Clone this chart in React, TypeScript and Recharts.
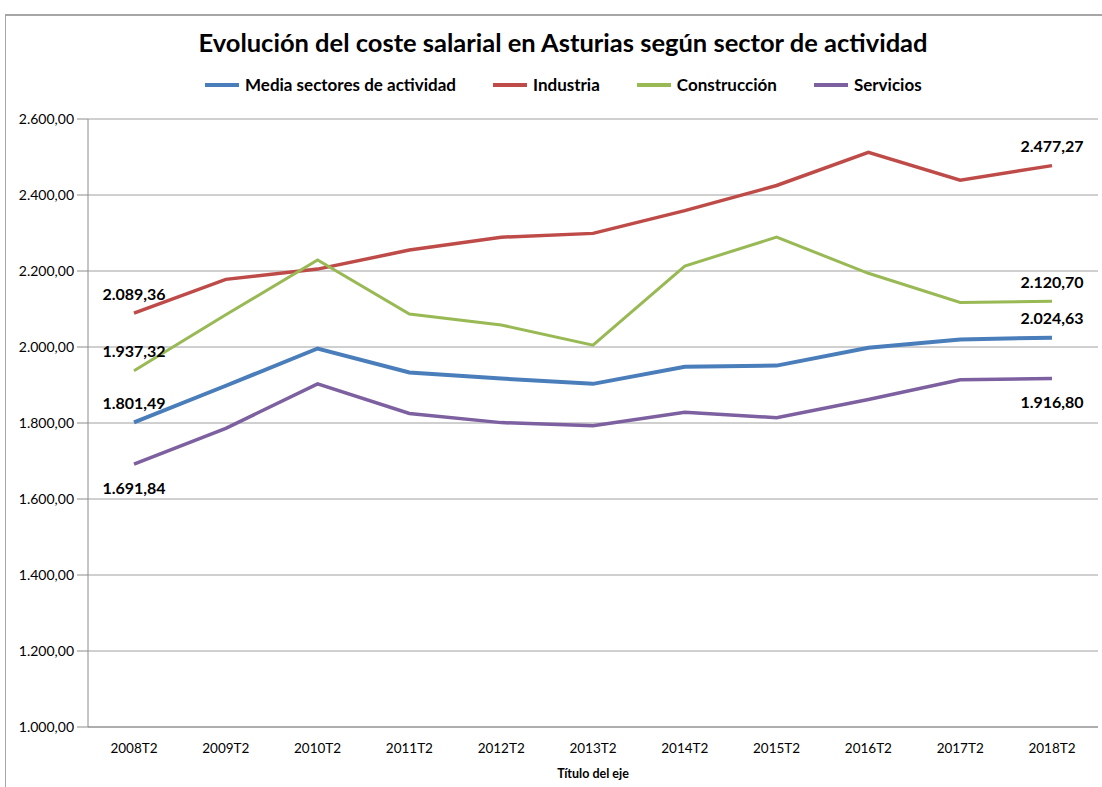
import { CartesianGrid, LabelList, Line, LineChart, XAxis, YAxis } from "recharts";

const periods = ["2008T2", "2009T2", "2010T2", "2011T2", "2012T2", "2013T2", "2014T2", "2015T2", "2016T2", "2017T2", "2018T2"];
const media = [1801.49, 1898, 1996, 1933, 1917, 1903, 1948, 1951, 1998, 2020, 2024.63];
const industria = [2089.36, 2178, 2205, 2255, 2289, 2299, 2359, 2425, 2512, 2439, 2477.27];
const construccion = [1937.32, 2085, 2229, 2087, 2058, 2005, 2213, 2289, 2194, 2117, 2120.7];
const servicios = [1691.84, 1786, 1903, 1825, 1801, 1793, 1828, 1814, 1862, 1914, 1916.8];
const yTicks = [1000, 1200, 1400, 1600, 1800, 2000, 2200, 2400, 2600];

const series = [
  { key: "media", name: "Media sectores de actividad", color: "#4a7ebb", width: 4, below: false },
  { key: "industria", name: "Industria", color: "#be4b48", width: 3.5, below: false },
  { key: "construccion", name: "Construcción", color: "#98b954", width: 3, below: false },
  { key: "servicios", name: "Servicios", color: "#7d60a0", width: 3.5, below: true },
];

const data = periods.map((p, i) => ({
  period: p,
  media: media[i],
  industria: industria[i],
  construccion: construccion[i],
  servicios: servicios[i],
}));

const FONT = "Lato, 'Open Sans', sans-serif";

// 2600 -> "2.600,00"
function fmt(v: number) {
  const [int, dec] = v.toFixed(2).split(".");
  return int.replace(/\B(?=(\d{3})+(?!\d))/g, ".") + "," + dec;
}

function endLabel(below: boolean) {
  return (props: any) => {
    const { x, y, index, value } = props;
    if (index !== 0 && index !== periods.length - 1) return null;
    return (
      <text
        x={x}
        y={below ? y + 23 : y - 20}
        textAnchor="middle"
        dominantBaseline="central"
        fontFamily={FONT}
        fontWeight="bold"
        fontSize={16}
        fill="#000"
      >
        {fmt(Number(value))}
      </text>
    );
  };
}

function ChartLegend() {
  return (
    <div
      style={{
        position: "absolute",
        top: 74,
        left: 205,
        display: "flex",
        alignItems: "center",
        fontFamily: FONT,
        fontWeight: "bold",
        fontSize: 17,
        color: "#000",
        whiteSpace: "nowrap",
      }}
    >
      {series.map((s) => (
        <div key={s.key} style={{ display: "flex", alignItems: "center", marginRight: 37 }}>
          <span style={{ display: "inline-block", width: 34, height: 4, background: s.color, marginRight: 6 }} />
          <span>{s.name}</span>
        </div>
      ))}
    </div>
  );
}

export default function App() {
  return (
    <div style={{ position: "absolute", left: 0, top: 0, width: 1102, height: 787, background: "#fff", overflow: "hidden" }}>
      <div style={{ position: "absolute", left: 5, top: 14, width: 1200, height: 900, borderLeft: "1px solid #a6a6a6", borderTop: "2px solid #a6a6a6" }} />
      <div
        style={{
          position: "absolute",
          top: 27,
          left: 0,
          width: 1126,
          textAlign: "center",
          fontFamily: FONT,
          fontWeight: "bold",
          fontSize: 25.5,
          color: "#000",
          whiteSpace: "nowrap",
        }}
      >
        Evolución del coste salarial en Asturias según sector de actividad
      </div>
      <ChartLegend />
      <LineChart
        width={1102}
        height={787}
        data={data}
        margin={{ top: 119, right: 4, bottom: 0, left: 0 }}
        style={{ position: "absolute", left: 0, top: 0 }}
      >
        <CartesianGrid vertical={false} stroke="#a0a0a0" strokeWidth={1} />
        <XAxis
          dataKey="period"
          height={60}
          padding={{ left: 46, right: 46 }}
          tickLine={false}
          tickSize={0}
          tickMargin={16}
          axisLine={{ stroke: "#8c8c8c" }}
          tick={{ fontFamily: FONT, fontSize: 13.5, fill: "#000" }}
          interval={0}
          label={{ value: "Título del eje", position: "insideBottom", offset: 9, fontFamily: FONT, fontWeight: "bold", fontSize: 12.5, fill: "#000" }}
        />
        <YAxis
          width={88}
          domain={[1000, 2600]}
          ticks={yTicks}
          interval={0}
          tickFormatter={fmt}
          tickSize={11}
          tickMargin={3}
          tickLine={{ stroke: "#8c8c8c" }}
          axisLine={{ stroke: "#8c8c8c" }}
          tick={{ fontFamily: FONT, fontSize: 14, fill: "#000" }}
        />
        {series.map((s) => (
          <Line
            key={s.key}
            type="linear"
            dataKey={s.key}
            name={s.name}
            stroke={s.color}
            strokeWidth={s.width}
            dot={false}
            activeDot={false}
            isAnimationActive={false}
          >
            <LabelList dataKey={s.key} content={endLabel(s.below)} />
          </Line>
        ))}
      </LineChart>
    </div>
  );
}
